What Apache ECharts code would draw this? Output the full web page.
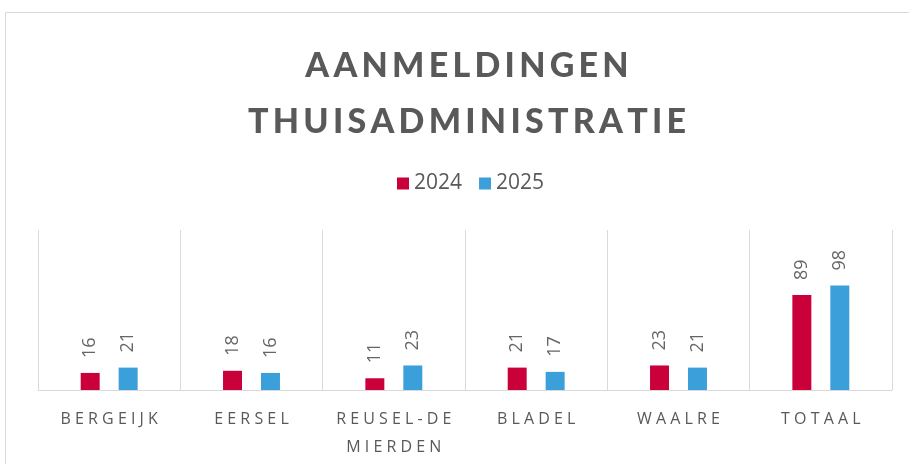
<!DOCTYPE html>
<html>
<head>
<meta charset="utf-8">
<script src="https://cdn.jsdelivr.net/npm/echarts@6/dist/echarts.min.js"></script>
<style>
  html, body { margin: 0; padding: 0; background: #fff; }
  #chart { width: 909px; height: 464px; }
</style>
</head>
<body>
<div id="chart"></div>
<script>
const categories = ['BERGEIJK', 'EERSEL', 'REUSEL-DE\nMIERDEN', 'BLADEL', 'WAALRE', 'TOTAAL']
const values2024 = [16, 18, 11, 21, 23, 89]
const values2025 = [21, 16, 23, 17, 21, 98]
const seriesNames = ['2024', '2025']
const titleLines = ['AANMELDINGEN', 'THUISADMINISTRATIE']

// spread letters out like the original's letter-spacing
const spaced = (s, sep) => s.split('\n').map(l => l.split('').join(sep)).join('\n')

const chart = echarts.init(document.getElementById('chart'))

const barLabel = {
  show: true,
  position: 'top',
  rotate: 90,
  align: 'left',
  verticalAlign: 'middle',
  distance: 15,
  color: '#666666',
  fontSize: 18,
  fontFamily: 'Open Sans'
}

const option = {
  animation: false,
  color: ['#c9003a', '#3b9fd9'],
  title: {
    text: titleLines.map(l => spaced(l, '\u2009')).join('\n'),
    left: 462,
    textAlign: 'center',
    top: 33,
    textStyle: {
      color: '#595959',
      fontFamily: 'Lato',
      fontWeight: 900,
      fontSize: 34,
      lineHeight: 56
    }
  },
  legend: {
    data: seriesNames,
    top: 168,
    left: 392,
    itemWidth: 12,
    itemHeight: 12,
    itemGap: 17,
    icon: 'rect',
    textStyle: {
      color: '#595959',
      fontSize: 21,
      fontFamily: 'Open Sans'
    }
  },
  grid: {
    left: 38,
    right: 17,
    top: 230,
    bottom: 74
  },
  xAxis: {
    type: 'category',
    data: categories,
    axisLine: { lineStyle: { color: '#d9d9d9', width: 1 } },
    axisTick: { show: false },
    splitLine: { show: true, lineStyle: { color: '#d9d9d9', width: 1 } },
    axisLabel: {
      color: '#595959',
      fontSize: 16,
      fontFamily: 'Open Sans',
      margin: 15,
      lineHeight: 28,
      interval: 0,
      formatter: v => spaced(v, ' ')
    }
  },
  yAxis: {
    type: 'value',
    min: 0,
    max: 150,
    show: false,
    splitLine: { show: false }
  },
  graphic: [
    {
      type: 'rect',
      shape: { x: 5.5, y: 12.5, width: 920, height: 470 },
      style: { fill: 'none', stroke: '#d9d9d9', lineWidth: 1 },
      silent: true,
      z: -1
    }
  ],
  series: [
    {
      name: seriesNames[0],
      type: 'bar',
      data: values2024,
      barGap: '100%',
      barCategoryGap: '60%',
      label: barLabel
    },
    {
      name: seriesNames[1],
      type: 'bar',
      data: values2025,
      barGap: '100%',
      barCategoryGap: '60%',
      label: barLabel
    }
  ]
}

chart.setOption(option)
</script>
</body>
</html>
